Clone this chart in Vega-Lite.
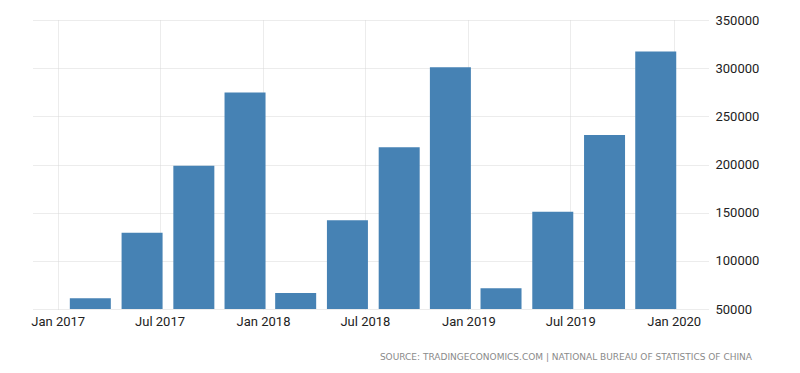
{
  "$schema": "https://vega.github.io/schema/vega-lite/v6.json",
  "width": 675,
  "height": 289,
  "padding": {"left": 30, "top": 14, "right": 5, "bottom": 5},
  "background": "white",
  "data": {
    "values": [
      {"date": "2017-02-28", "value": 61100},
      {"date": "2017-05-31", "value": 129200},
      {"date": "2017-08-31", "value": 198700},
      {"date": "2017-11-30", "value": 274800},
      {"date": "2018-02-28", "value": 66600},
      {"date": "2018-05-31", "value": 142000},
      {"date": "2018-08-31", "value": 218000},
      {"date": "2018-11-30", "value": 301000},
      {"date": "2019-02-28", "value": 71500},
      {"date": "2019-05-31", "value": 151000},
      {"date": "2019-08-31", "value": 230500},
      {"date": "2019-11-30", "value": 317300}
    ]
  },
  "title": {
    "text": "SOURCE: TRADINGECONOMICS.COM  |  NATIONAL BUREAU OF STATISTICS OF CHINA",
    "orient": "bottom",
    "anchor": "end",
    "frame": "group",
    "dx": 44,
    "offset": 25,
    "font": "DejaVu Sans",
    "fontSize": 9,
    "fontWeight": "normal",
    "color": "#8a8a8a"
  },
  "config": {
    "view": {"stroke": null},
    "axis": {
      "labelFont": "Roboto",
      "labelFontSize": 13,
      "labelColor": "#222222",
      "grid": true,
      "gridColor": "#d8d8d8",
      "gridDash": [1, 1],
      "gridWidth": 1,
      "domain": false,
      "ticks": false,
      "title": null
    }
  },
  "mark": {"type": "bar", "size": 41, "color": "#4682b4", "clip": true},
  "encoding": {
    "x": {
      "field": "date",
      "type": "temporal",
      "scale": {
        "type": "utc",
        "domain": [
          {"year": 2016, "month": 11, "date": 27, "utc": true},
          {"year": 2020, "month": 2, "date": 22, "utc": true}
        ]
      },
      "axis": {
        "values": [
          {"year": 2017, "month": 1, "date": 1, "utc": true},
          {"year": 2017, "month": 7, "date": 1, "utc": true},
          {"year": 2018, "month": 1, "date": 1, "utc": true},
          {"year": 2018, "month": 7, "date": 1, "utc": true},
          {"year": 2019, "month": 1, "date": 1, "utc": true},
          {"year": 2019, "month": 7, "date": 1, "utc": true},
          {"year": 2020, "month": 1, "date": 1, "utc": true}
        ],
        "labelExpr": "utcFormat(datum.value, '%b %Y')",
        "labelPadding": 6,
        "labelFlush": false,
        "labelOverlap": false
      }
    },
    "y": {
      "field": "value",
      "type": "quantitative",
      "scale": {"domain": [50000, 350000], "zero": false, "nice": false},
      "axis": {
        "orient": "right",
        "values": [50000, 100000, 150000, 200000, 250000, 300000, 350000],
        "format": "d",
        "labelPadding": 7
      }
    }
  }
}
